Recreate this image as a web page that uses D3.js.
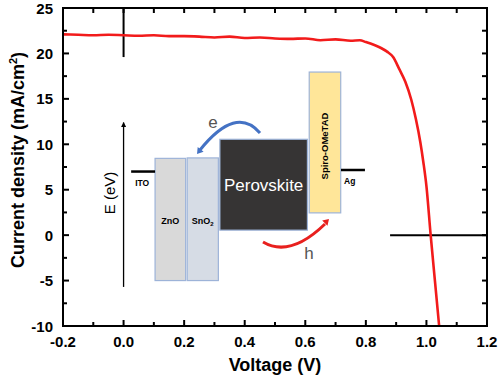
<!DOCTYPE html>
<html>
<head>
<meta charset="utf-8">
<script src="https://cdn.jsdelivr.net/npm/d3@7"></script>
<style>
  body { margin: 0; background: #fff; }
  text { font-family: "Liberation Sans", Arial, sans-serif; }
</style>
</head>
<body>
<div id="chart"></div>
<script>
// J-V curve
var voltage = [-0.2, -0.15, -0.1, -0.05, 0.0, 0.05, 0.1, 0.15, 0.2, 0.25, 0.3, 0.35, 0.4, 0.45, 0.5,
  0.55, 0.6, 0.65, 0.7, 0.75, 0.78, 0.8, 0.83, 0.85, 0.87, 0.89, 0.91, 0.93, 0.95, 0.965, 0.98,
  0.99, 1.0, 1.014, 1.028, 1.042];
var current = [22.1, 22.05, 22.0, 22.05, 22.0, 21.95, 22.0, 21.9, 21.9, 21.85, 21.75, 21.85, 21.7, 21.75, 21.65,
  21.6, 21.65, 21.45, 21.55, 21.4, 21.45, 21.25, 20.9, 20.6, 20.2, 19.6, 18.3, 16.9, 14.9, 12.8, 10.2,
  8.0, 5.4, 0.0, -5.0, -10.0];

var xTicks = [-0.2, 0.0, 0.2, 0.4, 0.6, 0.8, 1.0, 1.2];
var yTicks = [-10, -5, 0, 5, 10, 15, 20, 25];

// zero reference lines (partly hidden in the original)
var zeroV = { v: 0, j0: 25, j1: 19.6 };
var zeroJ = { j: 0, v0: 0.88, v1: 1.2 };

// inset band diagram, in axis units
var layerNames = ["ZnO", "SnO2", "Perovskite", "Spiro-OMeTAD"];
var layerV0 = [0.104, 0.210, 0.318, 0.613];
var layerV1 = [0.205, 0.313, 0.607, 0.717];
var layerTop = [8.45, 8.5, 10.55, 17.95];
var layerBottom = [-5.0, -5.0, 0.55, 2.45];
var contactNames = ["ITO", "Ag"];
var contactV0 = [0.025, 0.718];
var contactV1 = [0.104, 0.797];
var contactJ = [7.0, 7.17];

var width = 500, height = 377;
var margin = { top: 8, right: 13, bottom: 51, left: 63 };

var svg = d3.select("#chart").append("svg")
  .attr("width", width)
  .attr("height", height);

var x = d3.scaleLinear().domain([-0.2, 1.2]).range([margin.left, width - margin.right]);
var y = d3.scaleLinear().domain([-10, 25]).range([height - margin.bottom, margin.top]);

var x0 = x.range()[0], x1 = x.range()[1], y0 = y.range()[1], y1 = y.range()[0];

// ---- inset ----
var fills = { "ZnO": "#d9d9d9", "SnO2": "#d6dce5", "Perovskite": "#363434", "Spiro-OMeTAD": "#ffe699" };
var inset = svg.append("g");

inset.selectAll("rect.layer")
  .data(layerNames)
  .enter().append("rect")
  .attr("class", "layer")
  .attr("x", (d, i) => x(layerV0[i]))
  .attr("y", (d, i) => y(layerTop[i]))
  .attr("width", (d, i) => x(layerV1[i]) - x(layerV0[i]))
  .attr("height", (d, i) => y(layerBottom[i]) - y(layerTop[i]))
  .attr("fill", d => fills[d])
  .attr("stroke", "#9db3d8")
  .attr("stroke-width", 1.2);

inset.selectAll("line.contact")
  .data(contactNames)
  .enter().append("line")
  .attr("x1", (d, i) => x(contactV0[i]))
  .attr("x2", (d, i) => x(contactV1[i]))
  .attr("y1", (d, i) => y(contactJ[i]))
  .attr("y2", (d, i) => y(contactJ[i]))
  .attr("stroke", "#000")
  .attr("stroke-width", 2.5);

inset.selectAll("text.contact")
  .data(contactNames)
  .enter().append("text")
  .attr("x", (d, i) => x(contactV0[i]) + (i == 0 ? 4 : 3))
  .attr("y", (d, i) => y(contactJ[i]) + 14)
  .attr("font-size", 8.5)
  .attr("font-weight", "bold")
  .text(d => d);

// layer labels
inset.append("text")
  .attr("x", (x(layerV0[0]) + x(layerV1[0])) / 2).attr("y", 224)
  .attr("text-anchor", "middle").attr("font-size", 9).attr("font-weight", "bold")
  .text("ZnO");
var sn = inset.append("text")
  .attr("x", (x(layerV0[1]) + x(layerV1[1])) / 2).attr("y", 224)
  .attr("text-anchor", "middle").attr("font-size", 9).attr("font-weight", "bold");
sn.append("tspan").text("SnO");
sn.append("tspan").attr("font-size", 6).attr("dy", 2).text("2");
inset.append("text")
  .attr("x", (x(layerV0[2]) + x(layerV1[2])) / 2)
  .attr("y", (y(layerTop[2]) + y(layerBottom[2])) / 2 + 6)
  .attr("text-anchor", "middle").attr("font-size", 17).attr("fill", "#fff")
  .text("Perovskite");
var spX = (x(layerV0[3]) + x(layerV1[3])) / 2;
inset.append("text")
  .attr("transform", "translate(" + (spX + 3.5) + ",146) rotate(-90)")
  .attr("text-anchor", "middle").attr("font-size", 9.5).attr("font-weight", "bold")
  .text("Spiro-OMeTAD");

// energy axis
svg.append("defs").append("marker")
  .attr("id", "ah").attr("viewBox", "0 0 10 10").attr("refX", 9).attr("refY", 5)
  .attr("markerWidth", 4).attr("markerHeight", 4).attr("orient", "auto")
  .append("path").attr("d", "M0,0L10,5L0,10z").attr("fill", "#000");
inset.append("line")
  .attr("x1", x(0)).attr("x2", x(0))
  .attr("y1", y(-5.7)).attr("y2", y(12.4))
  .attr("stroke", "#000").attr("stroke-width", 1.3)
  .attr("marker-end", "url(#ah)");
inset.append("text")
  .attr("transform", "translate(115,193) rotate(-90)")
  .attr("text-anchor", "middle").attr("font-size", 15)
  .text("E (eV)");

// charge transfer arrows
function arrowHead(g, tipX, tipY, ang, color) {
  var s = 7;
  var a1 = ang + Math.PI * 0.82, a2 = ang - Math.PI * 0.82;
  g.append("path")
    .attr("d", "M" + tipX + "," + tipY +
      "L" + (tipX + s * Math.cos(a1)) + "," + (tipY + s * Math.sin(a1)) +
      "L" + (tipX + s * Math.cos(a2)) + "," + (tipY + s * Math.sin(a2)) + "Z")
    .attr("fill", color);
}
inset.append("path")
  .attr("d", "M260,133 Q236,105 200,150")
  .attr("fill", "none").attr("stroke", "#4472c4").attr("stroke-width", 3);
arrowHead(inset, 197, 154, Math.atan2(154 - 140, 197 - 208), "#4472c4");
inset.append("path")
  .attr("d", "M263,242 Q290,258 325,224")
  .attr("fill", "none").attr("stroke", "#e8201e").attr("stroke-width", 3);
arrowHead(inset, 329, 219, Math.atan2(219 - 232, 329 - 316), "#e8201e");
inset.append("text").attr("x", 213).attr("y", 128).attr("text-anchor", "middle")
  .attr("font-size", 17).attr("fill", "#555").text("e");
inset.append("text").attr("x", 309).attr("y", 259).attr("text-anchor", "middle")
  .attr("font-size", 17).attr("fill", "#555").text("h");

// ---- zero lines ----
svg.append("line")
  .attr("x1", x(zeroV.v)).attr("x2", x(zeroV.v))
  .attr("y1", y(zeroV.j0)).attr("y2", y(zeroV.j1))
  .attr("stroke", "#000").attr("stroke-width", 2);
svg.append("line")
  .attr("x1", x(zeroJ.v0)).attr("x2", x(zeroJ.v1))
  .attr("y1", y(zeroJ.j)).attr("y2", y(zeroJ.j))
  .attr("stroke", "#000").attr("stroke-width", 2);

// ---- curve ----
var pts = voltage.map((v, i) => [v, current[i]]);
var line = d3.line()
  .x(d => x(d[0]))
  .y(d => y(d[1]))
  .curve(d3.curveMonotoneX);
svg.append("path")
  .datum(pts)
  .attr("fill", "none")
  .attr("stroke", "#f21b1b")
  .attr("stroke-width", 2.6)
  .attr("stroke-linejoin", "round")
  .attr("d", line);

// ---- axes ----
var majX = d3.range(-0.2, 1.21, 0.2), minX = d3.range(-0.1, 1.2, 0.2);
var majY = d3.range(-10, 26, 5), minY = d3.range(-7.5, 25, 5);

var frame = svg.append("g").attr("stroke", "#000").attr("stroke-width", 2);
// bottom
frame.selectAll(".bt").data(majX.concat(minX)).enter().append("line")
  .attr("x1", d => x(d)).attr("x2", d => x(d))
  .attr("y1", y1).attr("y2", (d, i) => y1 - (i < majX.length ? 6 : 4));
// top
frame.selectAll(".tt").data(majX.concat(minX)).enter().append("line")
  .attr("x1", d => x(d)).attr("x2", d => x(d))
  .attr("y1", y0).attr("y2", y0 + 5);
// left
frame.selectAll(".lt").data(majY.concat(minY)).enter().append("line")
  .attr("y1", d => y(d)).attr("y2", d => y(d))
  .attr("x1", x0).attr("x2", (d, i) => x0 + (i < majY.length ? 6 : 4));
// right
frame.selectAll(".rt").data(majY.concat(minY)).enter().append("line")
  .attr("y1", d => y(d)).attr("y2", d => y(d))
  .attr("x1", x1).attr("x2", x1 - 5);
frame.append("rect")
  .attr("x", x0).attr("y", y0)
  .attr("width", x1 - x0).attr("height", y1 - y0)
  .attr("fill", "none");

// tick labels
svg.selectAll(".xl").data(xTicks).enter().append("text")
  .attr("x", d => x(d)).attr("y", y1 + 21)
  .attr("text-anchor", "middle").attr("font-size", 15).attr("font-weight", "bold")
  .text(d => d3.format(".1f")(d).replace("\u2212", "-"));
svg.selectAll(".yl").data(yTicks).enter().append("text")
  .attr("x", x0 - 10).attr("y", d => y(d) + 5.5)
  .attr("text-anchor", "end").attr("font-size", 15).attr("font-weight", "bold")
  .text(d => d);

// axis titles
svg.append("text")
  .attr("x", (x0 + x1) / 2).attr("y", 371)
  .attr("text-anchor", "middle").attr("font-size", 18).attr("font-weight", "bold")
  .text("Voltage (V)");
var yt = svg.append("text")
  .attr("transform", "translate(24,160) rotate(-90)")
  .attr("text-anchor", "middle").attr("font-size", 18).attr("font-weight", "bold");
yt.append("tspan").text("Current density (mA/cm");
yt.append("tspan").attr("font-size", 11).attr("dy", -7).text("2");
yt.append("tspan").attr("dy", 7).text(")");
</script>
</body>
</html>
